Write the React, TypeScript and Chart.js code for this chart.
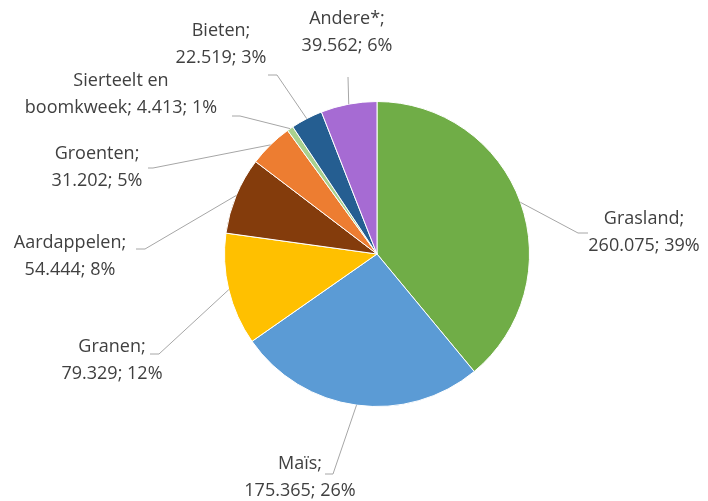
import React, { useEffect, useRef } from "react";
import { Chart, registerables } from "chart.js";

Chart.register(...registerables);

const categories = ["Grasland", "Maïs", "Granen", "Aardappelen", "Groenten", "Sierteelt en boomkweek", "Bieten", "Andere*"];
const values = [260075, 175365, 79329, 54444, 31202, 4413, 22519, 39562];
const valueLabels = ["260.075", "175.365", "79.329", "54.444", "31.202", "4.413", "22.519", "39.562"];
const percentLabels = ["39%", "26%", "12%", "8%", "5%", "1%", "3%", "6%"];
const colors = ["#70AD47", "#5B9BD5", "#FFC000", "#843C0C", "#ED7D31", "#A9D18E", "#255E91", "#A66BD3"];

function labelLinesFor(i: number): [string, string] {
  const full = `${categories[i]}; ${valueLabels[i]}; ${percentLabels[i]}`;
  if (categories[i] === "Sierteelt en boomkweek") {
    return ["Sierteelt en", `boomkweek; ${valueLabels[i]}; ${percentLabels[i]}`];
  }
  void full;
  return [`${categories[i]};`, `${valueLabels[i]}; ${percentLabels[i]}`];
}

// label layout relative to pie center: text center, leader elbow, leader end
const labelLayout = [
  { tx: 267, ty: -21.5, ex: 201, ey: -21, hx: 211 },
  { tx: -77, ty: 223.5, ex: -44, ey: 220, hx: -52 },
  { tx: -265, ty: 106.5, ex: -218, ey: 100, hx: -227 },
  { tx: -307, ty: 2.5, ex: -232, ey: -5, hx: -241 },
  { tx: -280, ty: -86.5, ex: -224, ey: -86, hx: -229 },
  { tx: -256, ty: -159.5, ex: -137, ey: -138, hx: -145 },
  { tx: -156, ty: -209.5, ex: -100, ey: -179, hx: -109 },
  { tx: -30, ty: -221.5, ex: -29, ey: -177, hx: -29 },
];

const labelPlugin = {
  id: "pieLabels",
  afterDatasetsDraw(chart: any) {
    const ctx = chart.ctx;
    const meta = chart.getDatasetMeta(0);
    ctx.save();
    meta.data.forEach((arc: any, i: number) => {
      const { x, y, startAngle, endAngle, outerRadius } = arc.getProps(["x", "y", "startAngle", "endAngle", "outerRadius"], true);
      const mid = (startAngle + endAngle) / 2;
      const px = x + Math.cos(mid) * outerRadius;
      const py = y + Math.sin(mid) * outerRadius;
      const L = labelLayout[i];
      ctx.strokeStyle = "#A6A6A6";
      ctx.lineWidth = 1;
      ctx.beginPath();
      ctx.moveTo(px, py);
      ctx.lineTo(x + L.ex, y + L.ey);
      ctx.lineTo(x + L.hx, y + L.ey);
      ctx.stroke();
      ctx.fillStyle = "#404040";
      ctx.font = "18px 'Open Sans'";
      ctx.textAlign = "center";
      ctx.textBaseline = "middle";
      const lines = labelLinesFor(i);
      ctx.fillText(lines[0], x + L.tx, y + L.ty - 13.5);
      ctx.fillText(lines[1], x + L.tx, y + L.ty + 13.5);
    });
    ctx.restore();
  },
};

export default function App() {
  const ref = useRef<HTMLCanvasElement>(null);
  useEffect(() => {
    document.body.style.margin = "0";
    const chart = new Chart(ref.current!, {
      type: "pie",
      data: {
        labels: categories,
        datasets: [
          {
            data: values,
            backgroundColor: colors,
            borderColor: "#FFFFFF",
            borderWidth: 1,
          },
        ],
      },
      options: {
        animation: false,
        responsive: false,
        maintainAspectRatio: false,
        layout: { padding: { left: 224, right: 178, top: 101, bottom: 94 } },
        plugins: { legend: { display: false }, tooltip: { enabled: false } },
      },
      plugins: [labelPlugin],
    });
    return () => chart.destroy();
  }, []);
  return (
    <div style={{ width: 708, height: 501, background: "#fff" }}>
      <canvas ref={ref} width={708} height={501} />
    </div>
  );
}
